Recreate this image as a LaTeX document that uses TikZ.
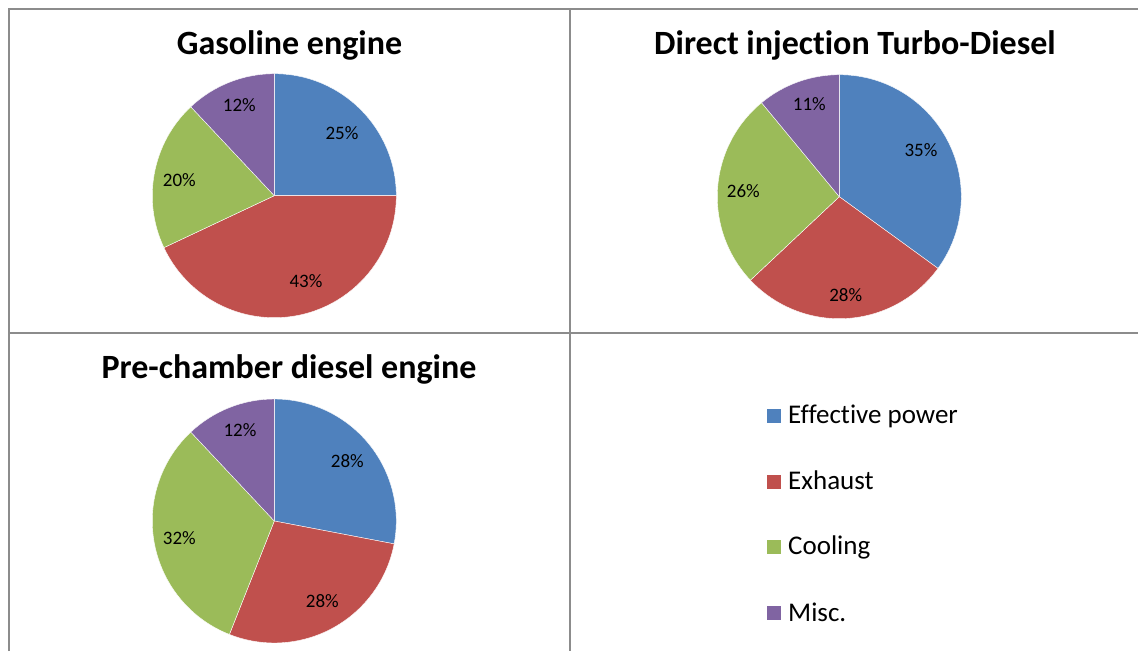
\documentclass[tikz,border=0pt]{standalone}
\usepackage{fontspec}
\setmainfont{Carlito}[Ligatures=NoCommon]
\definecolor{cblue}{HTML}{4F81BD}
\definecolor{cred}{HTML}{C0504D}
\definecolor{cgreen}{HTML}{9BBB59}
\definecolor{cpurple}{HTML}{8064A2}
\definecolor{gridgray}{HTML}{8C8C8C}
\tikzset{
  gridline/.style={draw=gridgray, line width=2pt},
  slice/.style={draw=white, line width=0.4pt, line join=round},
  title/.style={inner sep=0pt, anchor=base, font=\fontsize{34}{40}\selectfont\bfseries},
  pct/.style={inner sep=0pt, anchor=base, font=\fontsize{19}{23}\selectfont, text=black},
  legtext/.style={inner sep=0pt, anchor=base west, font=\fontsize{27}{32}\selectfont},
  legbox/.style={inner sep=0pt, minimum size=14pt, anchor=south west}
}
\newcommand{\pieslice}[5]{% center, start, end, radius, color
  \fill[#5, slice] #1 -- ++(#2:#4) arc[start angle=#2, end angle=#3, radius=#4] -- cycle;}
\begin{document}
\begin{tikzpicture}[x=1pt,y=1pt]
\useasboundingbox (0,0) rectangle (1138,651);
\fill[white] (0,0) rectangle (1138,651);
% grid
\coordinate (tl) at (9,642);
\coordinate (tr) at (1138,642);
\coordinate (bl) at (9,0);
\coordinate (mt) at (569.5,642);
\coordinate (mb) at (569.5,0);
\coordinate (ml) at (9,318);
\coordinate (mr) at (1138,318);
\draw[gridline] (bl) -- (tl) -- (tr);
\draw[gridline] (mt) -- (mb);
\draw[gridline] (ml) -- (mr);
% pie 1: Gasoline engine
\coordinate (p1) at (274.3,455.3);
\pieslice{(p1)}{90}{0}{122}{cblue}
\pieslice{(p1)}{0}{-154.8}{122}{cred}
\pieslice{(p1)}{-154.8}{-226.8}{122}{cgreen}
\pieslice{(p1)}{-226.8}{-270}{122}{cpurple}
\node[title] (t1) at (289.5,596.7) {Gasoline engine};
\node[pct] (a1) at (342,511.5) {25\%};
\node[pct] (a2) at (306,363) {43\%};
\node[pct] (a3) at (179.3,464) {20\%};
\node[pct] (a4) at (239.3,539) {12\%};
% pie 2: Direct injection Turbo-Diesel
\coordinate (p2) at (839.3,454.3);
\pieslice{(p2)}{90}{-36}{122}{cblue}
\pieslice{(p2)}{-36}{-136.8}{122}{cred}
\pieslice{(p2)}{-136.8}{-230.4}{122}{cgreen}
\pieslice{(p2)}{-230.4}{-270}{122}{cpurple}
\node[title] (t2) at (855,596.7) {Direct injection Turbo-Diesel};
\node[pct] (b1) at (921,494) {35\%};
\node[pct] (b2) at (845.7,349) {28\%};
\node[pct] (b3) at (743.3,453) {26\%};
\node[pct] (b4) at (809.3,540) {11\%};
% pie 3: Pre-chamber diesel engine
\coordinate (p3) at (274.3,130);
\pieslice{(p3)}{90}{-10.8}{122}{cblue}
\pieslice{(p3)}{-10.8}{-111.6}{122}{cred}
\pieslice{(p3)}{-111.6}{-226.8}{122}{cgreen}
\pieslice{(p3)}{-226.8}{-270}{122}{cpurple}
\node[title] (t3) at (289,272) {Pre-chamber diesel engine};
\node[pct] (c1) at (347.3,183) {28\%};
\node[pct] (c2) at (322.3,44) {28\%};
\node[pct] (c3) at (179.3,106.5) {32\%};
\node[pct] (c4) at (240,214) {12\%};
% legend
\node[legbox, fill=cblue] (k1) at (767,227.7) {};
\node[legtext] (l1) at (788,227) {Effective power};
\node[legbox, fill=cred] (k2) at (767,162.2) {};
\node[legtext] (l2) at (788,161.5) {Exhaust};
\node[legbox, fill=cgreen] (k3) at (767,96.7) {};
\node[legtext] (l3) at (788,96) {Cooling};
\node[legbox, fill=cpurple] (k4) at (767,30.7) {};
\node[legtext] (l4) at (788,30) {Misc.};
\end{tikzpicture}
\end{document}
